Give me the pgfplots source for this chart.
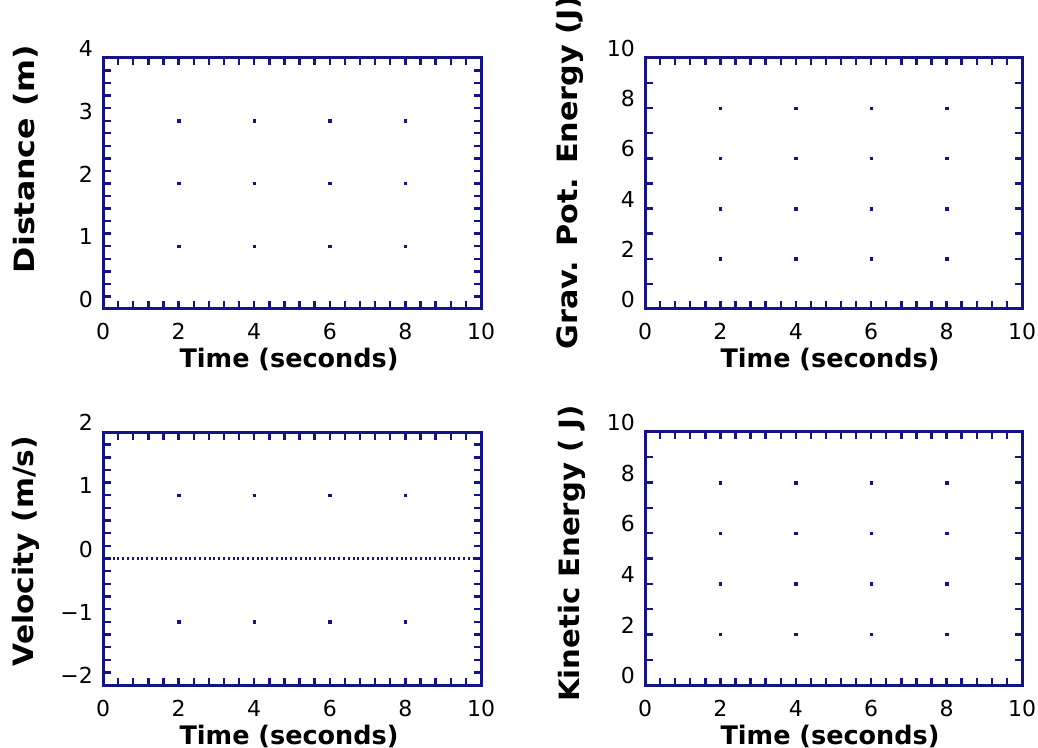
\documentclass[border=0pt]{standalone}
\usepackage{fontspec}
\setmainfont{DejaVu Sans}
\usepackage{graphicx}
\usepackage{pgfplots}
\pgfplotsset{compat=1.18}
\definecolor{navy}{RGB}{20,20,135}
\newcommand{\tickfnt}{\fontsize{22}{26}\selectfont}
\newcommand{\labfnt}{\fontsize{25.5}{30}\selectfont\bfseries}
\newcommand{\ylabfnt}{\fontsize{28}{32}\selectfont\bfseries}
\pgfplotsset{
  panel/.style={
    scale only axis,
    width=378pt,
    xmin=0, xmax=10,
    xtick={0,2,4,6,8,10},
    minor x tick num=4,
    tick align=inside,
    major tick length=7.5pt,
    minor tick length=7.5pt,
    every tick/.style={navy, line width=2.4pt},
    axis line style={navy, line width=3pt},
    /pgf/number format/assume math mode=true,
    tick label style={font=\tickfnt, text=black, inner sep=0pt},
    xticklabel style={anchor=base, yshift=-31pt},
    yticklabel style={anchor=east, xshift=-10pt, yshift=9.5pt},
    clip=true,
  },
  dots/.style={only marks, mark=square*, mark size=1.2pt, navy, mark options={draw=navy, fill=navy}},
}
\begin{document}
\begin{tikzpicture}[x=1pt, y=1pt]
\useasboundingbox (0pt,0pt) rectangle (1038pt,747pt);

% Distance
\begin{axis}[panel, at={(103pt,438pt)}, anchor=south west, height=251pt,
  ymin=0, ymax=4, ytick={0,1,2,3,4}, minor y tick num=4]
\addplot[dots] coordinates {(2,1) (4,1) (6,1) (8,1) (2,2) (4,2) (6,2) (8,2) (2,3) (4,3) (6,3) (8,3)};
\end{axis}

% Grav. Pot. Energy
\begin{axis}[panel, at={(645pt,438pt)}, anchor=south west, height=251pt, width=377pt,
  ymin=0, ymax=10, ytick={0,2,4,6,8,10}, minor y tick num=1]
\addplot[dots] coordinates {(2,2) (4,2) (6,2) (8,2) (2,4) (4,4) (6,4) (8,4) (2,6) (4,6) (6,6) (8,6) (2,8) (4,8) (6,8) (8,8)};
\end{axis}

% Velocity
\begin{axis}[panel, at={(103pt,62pt)}, anchor=south west, height=253pt,
  ymin=-2, ymax=2, ytick={-2,-1,0,1,2}, yticklabels={−2,−1,0,1,2}, minor y tick num=4]
\addplot[dots] coordinates {(2,1) (4,1) (6,1) (8,1) (2,-1) (4,-1) (6,-1) (8,-1)};
\addplot[navy, line width=2.2pt, dash pattern=on 2pt off 2.8pt] coordinates {(0,0) (10,0)};
\end{axis}

% Kinetic Energy
\begin{axis}[panel, at={(645pt,62pt)}, anchor=south west, height=253pt, width=377pt,
  ymin=0, ymax=10, ytick={0,2,4,6,8,10}, minor y tick num=1]
\addplot[dots] coordinates {(2,2) (4,2) (6,2) (8,2) (2,4) (4,4) (6,4) (8,4) (2,6) (4,6) (6,6) (8,6) (2,8) (4,8) (6,8) (8,8)};
\end{axis}

% axis titles
\node[anchor=base, inner sep=0pt] at (289pt,379pt) {\labfnt Time (seconds)};
\node[anchor=base, inner sep=0pt] at (830pt,379pt) {\labfnt Time (seconds)};
\node[anchor=base, inner sep=0pt] at (289pt,3pt) {\labfnt Time (seconds)};
\node[anchor=base, inner sep=0pt] at (830pt,3pt) {\labfnt Time (seconds)};
\node[rotate=90, inner sep=0pt] at (26pt,588pt) {\scalebox{1.13}[1]{\ylabfnt Distance (m)}};
\node[rotate=90, inner sep=0pt] at (570pt,574.5pt) {\scalebox{1.08}[1]{\ylabfnt Grav. Pot. Energy (J)}};
\node[rotate=90, inner sep=0pt] at (26pt,196pt) {\scalebox{1.06}[1]{\ylabfnt Velocity (m/s)}};
\node[rotate=90, inner sep=0pt] at (571.5pt,193.5pt) {\scalebox{1.04}[1]{\ylabfnt Kinetic Energy ( J)}};
\end{tikzpicture}
\end{document}
